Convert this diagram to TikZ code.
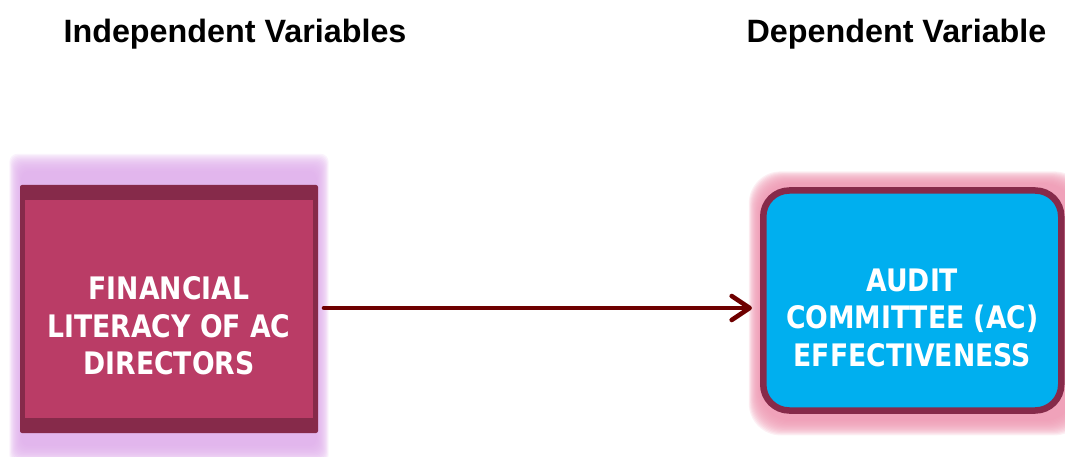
\documentclass[tikz,border=0pt]{standalone}
\usepackage{fontspec}
\setmainfont{Liberation Sans}
\newfontfamily\boxfont{DejaVu Sans}[FakeStretch=0.86]
\usetikzlibrary{arrows.meta}
\definecolor{frameC}{HTML}{862A4A}
\definecolor{leftC}{HTML}{BA3C66}
\definecolor{blueC}{HTML}{00AFEF}
\definecolor{glowL}{HTML}{DFAEEB}
\definecolor{glowR}{HTML}{EE98B2}
\definecolor{arrowC}{HTML}{6E0000}
\tikzset{
  headtext/.style={anchor=base, font=\bfseries\fontsize{32.3}{36}\selectfont, inner sep=0pt},
  boxtext/.style={text=white, align=center, font=\boxfont\bfseries\fontsize{31}{37.5}\selectfont, inner sep=0pt},
  link/.style={draw=arrowC, line width=4.6pt, line cap=round, -{Straight Barb[length=18pt,width=24pt,line cap=round,round]}},
}
\begin{document}
\begin{tikzpicture}[x=1pt,y=-1pt]
\useasboundingbox (0,0) rectangle (1065,457);
% glows
\foreach \i in {1,...,14} {
  \fill[glowL, opacity=0.15, rounded corners=8pt] ({22-\i*0.9},{172-\i*1.3}) rectangle ({316+\i*0.9},{445+\i*1.3});
  \fill[glowR, opacity=0.15, rounded corners=32pt] ({760-\i*0.8},{184-\i*0.9}) rectangle ({1075+\i*0.8},{420+\i*1.1});
}
% left box
\node[fill=frameC, rounded corners=2pt, minimum width=298pt, minimum height=248pt, inner sep=0pt, outer sep=0pt] (fin) at (169,309) {};
\fill[leftC] ([xshift=5pt,yshift=-15.5pt]fin.north west) rectangle ([xshift=-5pt,yshift=15.5pt]fin.south east);
% right box
\node[draw=frameC, line width=6.5pt, fill=blueC, rounded corners=26pt, minimum width=298pt, minimum height=220pt, inner sep=0pt] (aud) at (912.25,300.5) {};
% texts
\node[boxtext] (finT) at ([yshift=-17pt]fin.center) {FINANCIAL\\LITERACY OF AC\\DIRECTORS};
\node[boxtext] (audT) at ([yshift=-17pt]aud.center) {AUDIT\\COMMITTEE (AC)\\EFFECTIVENESS};
\node[headtext] (indep) at (235,43) {Independent Variables};
\node[headtext] (dep) at (896.5,43) {Dependent Variable};
% arrow
\draw[link, shorten <=6pt, shorten >=8pt] ([yshift=1pt]fin.east) -- ([yshift=1pt]fin.east -| aud.west);
\end{tikzpicture}
\end{document}
